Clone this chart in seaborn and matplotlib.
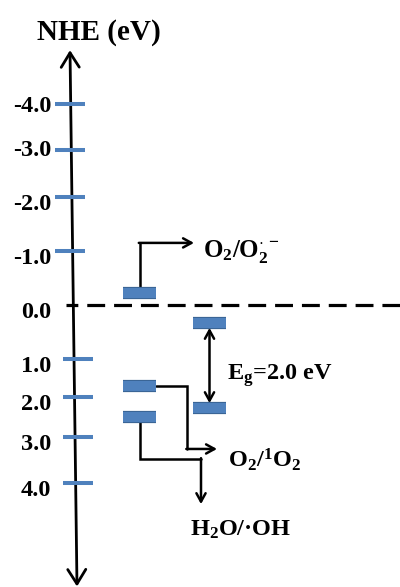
import matplotlib
matplotlib.use('Agg')
import matplotlib.pyplot as plt
import matplotlib.patheffects as pe
import numpy as np
import seaborn as sns

# energy axis (eV vs NHE)
tick_values = [-4.0, -3.0, -2.0, -1.0, 0.0, 1.0, 2.0, 3.0, 4.0]
tick_labels = ['-4.0', '-3.0', '-2.0', '-1.0', '0.0', '1.0', '2.0', '3.0', '4.0']

# band / redox levels (eV)
left_levels = [-0.22, 1.71, 2.50]
right_levels = [0.33, 2.28]
gap_label = 'E$_{g}$=2.0 eV'
species = ['O$_2$/O$_2^{\\cdot\\,-}$', 'O$_2$/$^1$O$_2$', 'H$_2$O/·OH']

# the drawing is not evenly spaced, so map eV onto it piecewise
knot_ev = np.array([-8, -4, -3, -2, -1, 0, 1, 2, 3, 4, 8])
knot_px = np.array([-80, 104, 150, 197, 251, 305, 359, 397, 437, 483, 667])

def fwd(v):
    return np.interp(v, knot_ev, knot_px)

def inv(p):
    return np.interp(p, knot_px, knot_ev)

sns.set_style('white')
plt.rcParams['font.family'] = ['Liberation Serif', 'DejaVu Serif']
plt.rcParams['font.weight'] = 'bold'
plt.rcParams['text.color'] = 'black'
plt.rcParams['mathtext.fontset'] = 'custom'
plt.rcParams['mathtext.rm'] = 'Liberation Serif:bold'
plt.rcParams['mathtext.it'] = 'Liberation Serif:bold'
plt.rcParams['mathtext.bf'] = 'Liberation Serif:bold'

fill = '#4F81BD'
edge = '#3A6596'

fig = plt.figure(figsize=(4, 5.87), dpi=100)
ax = fig.add_axes([0, 0, 1, 1])
ax.set_yscale('function', functions=(fwd, inv))
ax.set_xlim(0, 400)
ax.set_ylim(inv(587), inv(0))
ax.axis('off')

# title
fig.text(99 / 400, 1 - 32 / 587, 'NHE (eV)', ha='center', va='center',
         fontsize=21, fontweight='bold', color='black')

# vertical energy axis
ax.annotate('', xy=(70, -5.17), xytext=(77, 6.25),
            arrowprops=dict(arrowstyle='<->,head_length=0.4,head_width=0.25',
                            lw=2.0, color='black', mutation_scale=26,
                            shrinkA=0, shrinkB=0), zorder=3)

# ticks + labels
tv = np.array(tick_values)
neg = tv < 0
pos = tv > 0
ax.hlines(tv[neg], 55, 85, color=fill, lw=2.9, zorder=4)
ax.hlines(tv[pos], 63, 93, color=fill, lw=2.9, zorder=4)
label_nudge = [0, -2, 6, 6, 6, 6, 5, 5, 6]
for v, lab, d in zip(tick_values, tick_labels, label_nudge):
    ax.annotate(lab, xy=(51, v), xytext=(0, -(d + 7.5) * 0.72),
                textcoords='offset points', ha='right', va='baseline',
                fontsize=17.5, fontweight='bold', color='black')

# zero line
ax.plot([66, 400], [0, 0], color='black', lw=2.3,
        ls=(1.9, (5.6, 2.8)), zorder=2)

# levels
bar_fx = [pe.Stroke(linewidth=8.8, foreground=edge), pe.Normal()]
ax.hlines(left_levels, 123, 156, color=fill, lw=7.2, zorder=5,
          capstyle='butt', path_effects=bar_fx)
ax.hlines(right_levels, 193, 226, color=fill, lw=7.2, zorder=5,
          capstyle='butt', path_effects=bar_fx)

small_arrow = dict(arrowstyle='->,head_length=0.4,head_width=0.22',
                   lw=1.8, color='black', mutation_scale=15,
                   shrinkA=0, shrinkB=0)
line_kw = dict(color='black', lw=1.8, zorder=3, solid_joinstyle='miter')

# O2/O2.- connector
ax.plot([139.5, 139.5], [left_levels[0], -1.15], **line_kw)
ax.annotate('', xy=(194, -1.15), xytext=(138.8, -1.15), arrowprops=small_arrow)
ax.text(203, -0.89, species[0], ha='left', va='baseline', fontsize=18)

# O2/1O2 connector
ax.plot([156, 187, 187], [left_levels[1], left_levels[1], 3.26], **line_kw)
ax.annotate('', xy=(217, 3.26), xytext=(186.3, 3.26), arrowprops=small_arrow)
ax.text(228, 3.65, species[1], ha='left', va='baseline', fontsize=17.5)

# H2O/.OH connector
ax.plot([140, 140, 201], [left_levels[2], 3.48, 3.48], **line_kw)
ax.annotate('', xy=(201, 4.46), xytext=(201, 3.46), arrowprops=small_arrow)
ax.text(241, 5.15, species[2], ha='center', va='baseline', fontsize=17.5)

# band gap arrow
gap_arrow = dict(small_arrow)
gap_arrow['arrowstyle'] = '<->,head_length=0.4,head_width=0.22'
gap_arrow['shrinkA'] = 3.6
gap_arrow['shrinkB'] = 3.6
ax.annotate('', xy=(209.5, right_levels[1]), xytext=(209.5, right_levels[0]),
            arrowprops=gap_arrow)
ax.text(227, 1.55, gap_label, ha='left', va='baseline', fontsize=17.5)

fig.savefig('out.png', dpi=100)
